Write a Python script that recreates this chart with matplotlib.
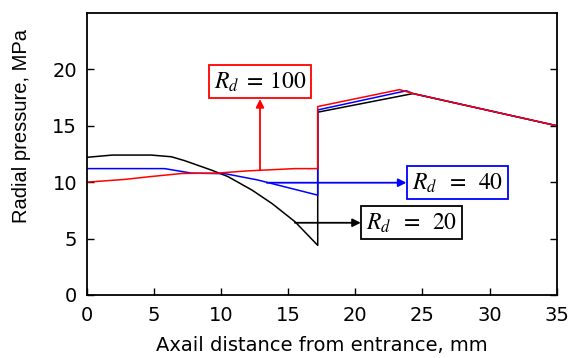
import matplotlib.pyplot as plt

# Rd = 20 (black)
x20 = [0, 1.9, 4.8, 6.3, 7.3, 9.3, 10.5, 12.3, 13.8, 15.5, 17.2, 17.2, 24.3, 35]
y20 = [12.2, 12.4, 12.4, 12.25, 11.9, 11.06, 10.5, 9.3, 8.1, 6.5, 4.4, 16.2, 17.85, 15.0]
# Rd = 40 (blue)
x40 = [0, 5.8, 7.8, 10.3, 12.7, 14.7, 17.2, 17.2, 23.8, 24.3, 35]
y40 = [11.2, 11.2, 10.8, 10.75, 10.2, 9.6, 8.85, 16.4, 18.1, 17.85, 15.0]
# Rd = 100 (red)
x100 = [0, 2.8, 4.8, 7.1, 9.7, 12, 15.5, 17.2, 17.2, 23.3, 24.3, 35]
y100 = [10.0, 10.24, 10.5, 10.77, 10.8, 11.0, 11.2, 11.2, 16.7, 18.2, 17.85, 15.0]

xticks = [0, 5, 10, 15, 20, 25, 30, 35]
yticks = [0, 5, 10, 15, 20]

plt.rcParams['font.family'] = 'DejaVu Sans'
plt.rcParams['mathtext.fontset'] = 'stix'

fig = plt.figure(figsize=(5.71, 3.58), dpi=100)
ax = fig.add_axes([0.152, 0.176, 0.823, 0.788])

ax.plot(x20, y20, color='black', lw=1.1)
ax.plot(x40, y40, color='blue', lw=1.1)
ax.plot(x100, y100, color='red', lw=1.1)

ax.set_xlim(0, 35)
ax.set_ylim(0, 25)
ax.set_xticks(xticks)
ax.set_yticks(yticks)
ax.tick_params(direction='in', length=5, width=1, labelsize=14, right=True, top=False)
ax.tick_params(axis='x', pad=8)
ax.tick_params(axis='y', pad=7)
for s in ax.spines.values():
    s.set_linewidth(1.3)
ax.set_xlabel('Axail distance from entrance, mm', fontsize=14)
ax.set_ylabel('Radial pressure, MPa', fontsize=14.5, family='Liberation Sans')
ax.xaxis.set_label_coords(0.5, -0.145)
ax.yaxis.set_label_coords(-0.118, 0.60)

txt = dict(fontsize=17, ha='center', va='center', color='black')
ax.annotate(r'$R_d\;=\:100$', xy=(12.9, 11.05), xytext=(12.9, 18.9),
            bbox=dict(boxstyle='square,pad=0.2', fc='white', ec='red', lw=1.3),
            arrowprops=dict(arrowstyle='<|-', color='red', lw=1.3, mutation_scale=12,
                            shrinkA=0, shrinkB=0), **txt)
ax.annotate(r'$R_d\;\;=\;\;40$', xy=(13.4, 9.95), xytext=(27.6, 9.95),
            bbox=dict(boxstyle='square,pad=0.2', fc='white', ec='blue', lw=1.3),
            arrowprops=dict(arrowstyle='<|-', color='blue', lw=1.3, mutation_scale=12,
                            shrinkA=0, shrinkB=0), **txt)
ax.annotate(r'$R_d\;\;=\;\;20$', xy=(15.5, 6.4), xytext=(24.2, 6.4),
            bbox=dict(boxstyle='square,pad=0.2', fc='white', ec='black', lw=1.3),
            arrowprops=dict(arrowstyle='<|-', color='black', lw=1.3, mutation_scale=12,
                            shrinkA=0, shrinkB=0), **txt)

fig.savefig('out.png', dpi=100)
